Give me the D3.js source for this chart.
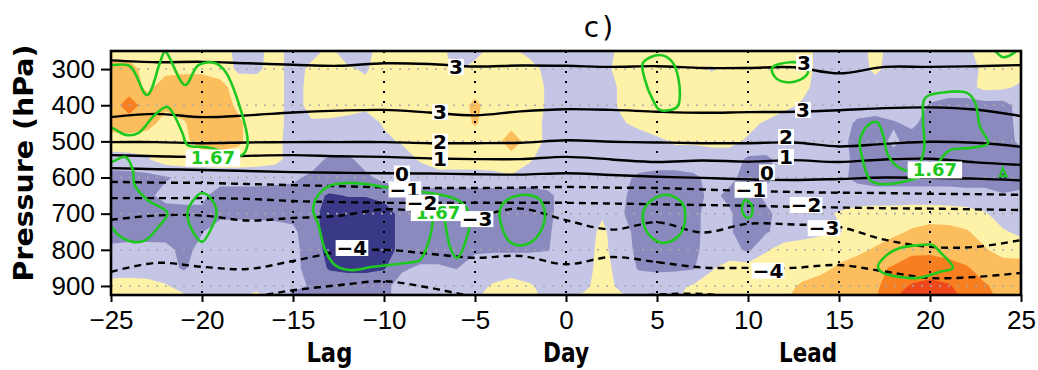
<!DOCTYPE html>
<html>
<head>
<meta charset="utf-8">
<script src="https://cdn.jsdelivr.net/npm/d3@7"></script>
<style>
  body { margin: 0; background: #fff; }
  svg { display: block; }
</style>
</head>
<body>
<svg id="chart" width="1038" height="370"></svg>
<script>
// ---- grid axes ----
const days = [-25,-24,-23,-22,-21,-20,-19,-18,-17,-16,-15,-14,-13,-12,-11,-10,-9,-8,-7,-6,-5,-4,-3,-2,-1,
  0,1,2,3,4,5,6,7,8,9,10,11,12,13,14,15,16,17,18,19,20,21,22,23,24,25];
const levels = [250,300,350,400,450,500,550,600,650,700,750,800,850,900,925];

// ---- shaded anomaly field, one row per pressure level (columns follow `days`) ----
const anomaly250 = [0.25,0.25,0.25,0.25,0.25,0.25,0.25,-0.15,-0.15,0.2,-0.2,-0.15,0.1,-0.2,-0.15,0.25,0.25,0.25,0.15,-0.2,-0.2,0.2,0.1,-0.15,-0.2,-0.2,-0.2,-0.2,0.1,0.25,0.25,0.25,0.25,0.25,0.25,0.25,0.25,0.25,0.2,-0.15,-0.2,-0.2,0.15,-0.2,-0.2,-0.2,-0.2,-0.1,0.2,0.25,0.25];
const anomaly300 = [0.75,0.7,0.3,0.35,0.4,0.4,0.3,-0.1,-0.1,0.2,-0.2,0.1,0.2,0.05,-0.05,0.25,0.25,0.25,0.25,-0.1,0.2,0.25,0.25,0.2,-0.15,-0.2,-0.2,-0.2,0.2,0.25,0.25,0.25,0.2,-0.05,0.2,0.25,0.25,0.25,0.2,-0.15,-0.2,-0.2,0.1,-0.2,-0.2,-0.2,-0.2,-0.2,0.1,0.25,0.25];
const anomaly350 = [0.75,0.8,0.38,0.75,0.75,0.75,0.65,0.3,0.25,0.2,-0.2,0.15,0.25,0.25,0.1,0.25,0.25,0.25,0.25,0.25,0.3,0.25,0.25,0.2,-0.05,-0.2,-0.2,-0.2,0.05,0.25,0.25,0.25,0.25,0.25,0.25,0.25,0.25,0.2,0.1,-0.15,-0.2,-0.2,-0.2,-0.2,-0.2,-0.2,-0.2,-0.2,0.15,0.1,-0.1];
const anomaly400 = [0.8,1.2,0.8,0.6,0.75,0.8,0.75,0.4,0.25,0.2,-0.2,0.15,0.25,0.2,0.1,0.25,0.25,0.25,0.25,0.25,0.62,0.25,0.25,0.2,-0.05,-0.2,-0.2,-0.2,0.05,0.25,0.25,0.25,0.25,0.25,0.25,0.25,0.25,0.1,-0.05,-0.2,-0.2,-0.2,-0.2,-0.2,-0.2,-0.55,-0.7,-0.7,-0.7,-0.7,-0.3];
const anomaly450 = [0.75,0.8,0.7,0.3,0.45,0.8,0.8,0.6,0.2,0.2,-0.2,-0.05,-0.1,-0.15,-0.2,0.05,0.25,0.25,0.25,0.25,0.55,0.25,0.3,0.2,-0.1,-0.2,-0.2,-0.2,-0.05,0.1,0.25,0.25,0.25,0.25,0.25,0.1,-0.05,-0.2,-0.2,-0.2,-0.2,-0.6,-0.7,-0.55,-0.4,-0.7,-0.7,-0.7,-0.7,-0.7,-0.35];
const anomaly500 = [0.25,0.25,0.2,0.2,0.4,0.7,0.75,0.6,0.2,0.15,-0.2,-0.15,-0.15,-0.15,-0.2,-0.1,0.05,0.25,0.25,0.25,0.25,0.25,0.8,0.25,-0.1,-0.2,-0.2,-0.2,-0.2,-0.2,-0.1,0.05,0.05,0.1,0.1,-0.05,-0.2,-0.2,-0.2,-0.2,-0.3,-0.7,-0.7,-0.4,-0.7,-0.7,-0.7,-0.7,-0.7,-0.7,-0.4];
const anomaly550 = [-0.2,-0.15,-0.05,0.25,0.25,0.25,0.25,0.25,0.2,0.15,-0.2,-0.25,-0.6,-0.6,-0.3,-0.25,-0.2,0.05,0.25,0.25,0.25,0.25,0.25,0.05,-0.2,-0.2,-0.2,-0.2,-0.2,-0.2,-0.2,-0.2,-0.2,-0.2,-0.2,-0.6,-0.6,-0.3,-0.2,-0.2,-0.2,-0.7,-0.7,-0.7,-0.7,-0.7,-0.7,-0.7,-0.7,-0.7,-0.7];
const anomaly600 = [-0.7,-0.7,-0.65,-0.55,-0.4,-0.35,-0.3,-0.3,-0.3,-0.35,-0.4,-0.6,-0.65,-0.65,-0.6,-0.35,-0.3,-0.25,-0.2,-0.2,-0.2,-0.15,-0.05,-0.2,-0.25,-0.25,-0.25,-0.25,-0.35,-0.6,-0.7,-0.7,-0.6,-0.35,-0.4,-0.65,-0.6,-0.3,-0.3,-0.3,-0.4,-0.6,-0.7,-0.7,-0.7,-0.7,-0.7,-0.7,-0.7,-1.1,-0.7];
const anomaly650 = [-0.75,-0.7,-0.6,-0.35,-0.3,-0.4,-0.7,-0.7,-0.7,-0.7,-0.7,-0.85,-1.05,-0.98,-0.98,-0.9,-0.75,-0.7,-0.7,-0.7,-0.7,-0.75,-0.8,-0.75,-0.6,-0.3,-0.25,-0.2,-0.4,-0.7,-0.8,-0.8,-0.65,-0.4,-0.6,-0.7,-0.4,-0.3,-0.3,-0.3,-0.3,-0.3,-0.3,-0.3,-0.3,-0.3,-0.3,-0.35,-0.35,-0.4,-0.4];
const anomaly700 = [-0.7,-0.7,-0.7,-0.7,-0.7,-0.6,-0.6,-0.6,-0.6,-0.6,-0.65,-0.85,-1.2,-1.25,-1.25,-1.15,-0.9,-0.75,-0.7,-0.7,-0.7,-0.75,-0.8,-0.75,-0.6,-0.3,-0.2,-0.05,-0.45,-0.7,-0.8,-0.8,-0.6,-0.35,-0.45,-0.8,-0.6,-0.3,-0.25,-0.15,0.05,0.2,0.25,0.25,0.3,0.3,0.25,0.2,0.05,-0.2,-0.3];
const anomaly750 = [-0.7,-0.7,-0.7,-0.65,-0.6,-0.52,-0.3,-0.3,-0.3,-0.35,-0.4,-0.8,-1.2,-1.25,-1.25,-1.15,-0.9,-0.7,-0.7,-0.7,-0.75,-0.75,-0.7,-0.65,-0.55,-0.3,-0.2,0.1,-0.3,-0.65,-0.75,-0.75,-0.6,-0.35,-0.45,-0.75,-0.55,-0.3,-0.2,-0.1,-0.05,0.25,0.3,0.4,0.55,0.65,0.65,0.55,0.3,0.05,-0.1];
const anomaly800 = [-0.4,-0.35,-0.35,-0.4,-0.6,-0.4,-0.3,-0.25,-0.25,-0.3,-0.35,-0.75,-1.15,-1.25,-1.25,-1.15,-0.9,-0.7,-0.7,-0.65,-0.6,-0.55,-0.55,-0.55,-0.52,-0.3,-0.2,0.15,-0.3,-0.6,-0.7,-0.7,-0.6,-0.3,-0.3,-0.6,-0.05,0.2,0.25,0.3,0.35,0.4,0.55,0.75,0.9,0.9,0.8,0.7,0.55,0.3,0.25];
const anomaly850 = [-0.35,-0.3,-0.3,-0.35,-0.55,-0.3,-0.25,-0.25,-0.25,-0.3,-0.35,-0.7,-1.05,-1.1,-1.1,-1.05,-0.55,-0.45,-0.45,-0.52,-0.2,-0.25,-0.25,-0.25,-0.2,-0.2,-0.15,0.15,-0.15,-0.55,-0.6,-0.6,-0.55,-0.05,0.2,0.25,0.3,0.3,0.35,0.4,0.55,0.7,0.9,1.05,1.2,1.25,1.2,1.05,0.8,0.75,0.75];
const anomaly900 = [0.25,0.25,0.2,0.05,-0.2,-0.25,-0.3,-0.25,-0.15,-0.25,-0.35,-0.55,-0.7,-0.75,-0.75,-0.6,-0.35,-0.3,-0.3,-0.25,-0.15,0.05,0.2,0.05,-0.15,-0.2,-0.1,0.2,-0.1,-0.2,-0.2,-0.1,0.05,0.2,0.25,0.3,0.35,0.4,0.55,0.65,0.7,0.8,0.9,1.3,1.55,1.65,1.55,1.3,1.05,0.85,0.8];
const anomaly925 = [0.3,0.3,0.25,0.2,0.05,-0.2,-0.2,-0.1,0.1,-0.2,-0.6,-0.65,-0.7,-0.7,-0.7,-0.6,-0.35,-0.3,-0.3,-0.25,-0.1,0.2,0.25,0.15,-0.15,-0.1,0.05,0.3,0.05,-0.15,-0.2,-0.1,0.2,0.25,0.3,0.35,0.4,0.45,0.6,0.7,0.75,0.85,0.95,1.4,1.8,1.85,1.75,1.3,1.1,0.9,0.85];

const shadeThresholds = [-1, -0.5, 0, 0.5, 1, 1.5];
const shadeColors = ["#393987", "#8a8abe", "#c5c6e5", "#fef2a9", "#fcbe5d", "#f77f1f", "#ef481b"];

// ---- line contours (hPa of each isoline, sampled at lineDays) ----
const lineDays = [-25,-22.5,-20,-17.5,-15,-12.5,-10,-7.5,-5,-2.5,0,2.5,5,7.5,10,12.5,15,17.5,20,22.5,25];
const iso3upper = [276,281,280,284,288,291,284,286,293,290,291,294,292,297,297,295,312,294,294,292,289];
const iso3lower = [433,424,433,428,420,415,413,420,428,417,411,413,418,421,419,418,414,408,406,412,430];
const iso2  = [502,502,505,503,502,502,502,505,505,504,497,501,503,505,505,503,514,507,501,504,515];
const iso1  = [538,541,543,540,538,541,543,547,549,549,543,550,557,553,556,552,557,550,548,558,565];
const iso0  = [574,577,579,582,585,587,588,589,591,592,588,593,598,601,605,607,604,600,601,603,608];
const isoM1 = [612,614,615,618,621,624,627,629,629,628,626,628,629,633,637,640,642,643,645,646,648];
const isoM2 = [657,657,657,659,665,668,670,670,670,670,670,672,674,676,678,681,683,685,686,688,690];
const isoM3 = [717,705,705,719,712,706,688,695,705,686,718,744,724,752,728,730,737,772,792,792,773];
const isoM4 = [861,836,847,853,831,806,800,811,822,817,840,820,834,849,850,850,842,860,878,875,864];
const isoM5 = [945,942,926,930,912,898,887,905,930,945,945,935,924,922,935,945,948,948,948,948,948];
const isolines = [
  {value: 3, p: iso3upper}, {value: 3, p: iso3lower}, {value: 2, p: iso2}, {value: 1, p: iso1},
  {value: 0, p: iso0}, {value: -1, p: isoM1}, {value: -2, p: isoM2}, {value: -3, p: isoM3},
  {value: -4, p: isoM4}, {value: -5, p: isoM5}
];
// label positions [day, hPa, text]
const isoLabels = [
  [-6.04, 294, "3"], [13.08, 283, "3"], [-6.92, 419, "3"], [13.02, 413, "3"],
  [-6.92, 501, "2"], [12.09, 488, "2"], [-6.92, 547, "1"], [12.09, 543, "1"],
  [-9.01, 589, "0"], [11.04, 586, "0"], [-8.85, 633, "\u22121"], [10.16, 634, "\u22121"],
  [-7.91, 670, "\u22122"], [13.19, 676, "\u22122"], [-4.89, 715, "\u22123"], [14.18, 740, "\u22123"],
  [-11.76, 795, "\u22124"], [11.1, 858, "\u22124"]
];

// ---- 1.67 significance contour, as [day, hPa] outlines ----
const sigOpen = [
  [[-25.6,289],[-24.95,289],[-23.96,292],[-23.02,372],[-22.3,281],[-22.03,252],[-20.93,344],[-20.2,289],[-19.3,283],[-18.7,308],[-17.6,463],[-17.5,510],[-17.8,538],[-18.7,529],[-19.8,516],[-20.8,510],[-21.1,474],[-21.9,405],[-22.6,427],[-23.5,477],[-24.2,482],[-24.95,463],[-25.6,463]],
  [[-25.6,557],[-25,557],[-24.2,543],[-23.8,579],[-23.7,621],[-23,662],[-21.9,698],[-22.4,737],[-23.1,773],[-23.8,778],[-24.6,759],[-25,737],[-25.6,730]],
  [[23.4,245],[23.57,250],[24.0,267],[24.67,253],[24.8,245]]
];
const sigClosed = [
  [[-20,643],[-19.45,662],[-19.2,698],[-19.45,737],[-20,778],[-20.55,745],[-20.8,698],[-20.55,668]],
  [[-13.9,690],[-13.6,648],[-13,623],[-12.1,615],[-11.0,618],[-10.05,626],[-8.74,635],[-7.47,643],[-6.37,654],[-5.66,673],[-5.27,709],[-5.44,764],[-5.99,823],[-6.37,792],[-6.76,698],[-6.92,684],[-7.2,698],[-7.47,764],[-8.02,828],[-8.74,836],[-10.6,847],[-11.87,856],[-12.7,842],[-13.24,800],[-13.63,726]],
  [[-3.63,690],[-3.24,662],[-2.14,648],[-1.43,662],[-1.15,709],[-1.59,764],[-2.36,787],[-3.08,778],[-3.52,737]],
  [[4.23,698],[4.73,662],[5.6,648],[6.37,670],[6.54,717],[6.15,764],[5.27,781],[4.45,751]],
  [[9.84,662],[10.2,676],[10.2,704],[9.95,712],[9.67,690]],
  [[4.23,283],[5.16,261],[5.88,283],[6.26,366],[6.1,405],[5.16,413],[4.78,386],[4.34,330]],
  [[11.32,297],[12.3,281],[13.13,289],[13.3,308],[12.85,330],[12.03,336],[11.48,322]],
  [[16.7,607],[16.26,543],[16.15,496],[16.6,455],[17.09,447],[17.42,482],[17.69,538],[18.35,574],[19.18,579],[19.67,524],[19.62,441],[19.73,380],[20.82,364],[22.03,366],[22.47,391],[22.75,460],[23.19,505],[22.2,518],[21.1,524],[20.55,552],[20,585],[18.9,607],[17.8,618],[16.98,615]],
  [[17.14,847],[17.64,814],[18.35,795],[19.45,787],[20.16,787],[20.55,806],[21.26,850],[20.55,861],[19.29,878],[18.35,875],[17.42,864]]
];
const sigTriangle = [[24.0,574],[24.2,596],[23.84,596]];
const sigLabels = [[-19.4, 546, "1.67"], [-7.03, 697, "1.67"], [20.27, 579, "1.67"]];

// ---- axes ----
const pressureTicks = [300,400,500,600,700,800,900];
const dayTicks = [-25,-20,-15,-10,-5,0,5,10,15,20,25];
const guideDays = [-20,-15,-10,-5,0,5,10,15,20];

// ================= drawing =================
const svg = d3.select("#chart");
const plot = {left: 111, right: 1021, top: 51, bottom: 295};
const x = d3.scaleLinear().domain([-25, 25]).range([plot.left, plot.right]);
const y = d3.scaleLinear().domain([250, 925]).range([plot.top, plot.bottom]);

svg.append("defs").append("clipPath").attr("id", "plotClip")
  .append("rect").attr("x", plot.left).attr("y", plot.top)
  .attr("width", plot.right - plot.left).attr("height", plot.bottom - plot.top);

const body = svg.append("g").attr("clip-path", "url(#plotClip)");

// shaded field
const anomaly = [anomaly250, anomaly300, anomaly350, anomaly400, anomaly450, anomaly500, anomaly550,
  anomaly600, anomaly650, anomaly700, anomaly750, anomaly800, anomaly850, anomaly900, anomaly925];
const nx = days.length, ny = levels.length;
const flat = anomaly.flat();
function gridTo(arr, g) {
  const t = Math.max(0, Math.min(arr.length - 1, g - 0.5));
  const i = Math.min(arr.length - 2, Math.floor(t));
  return arr[i] + (t - i) * (arr[i + 1] - arr[i]);
}
const gridProjection = d3.geoTransform({
  point(px, py) { this.stream.point(x(gridTo(days, px)), y(gridTo(levels, py))); }
});
const gridPath = d3.geoPath(gridProjection);
const bands = d3.contours().size([nx, ny]).thresholds(shadeThresholds)(flat);

body.append("rect").attr("x", plot.left).attr("y", plot.top)
  .attr("width", plot.right - plot.left).attr("height", plot.bottom - plot.top)
  .attr("fill", shadeColors[0]);
body.selectAll("path.band").data(bands).join("path")
  .attr("class", "band")
  .attr("d", gridPath)
  .attr("fill", (d, i) => shadeColors[i + 1]);

// dotted guides
body.selectAll("line.hguide").data(pressureTicks).join("line")
  .attr("class", "hguide")
  .attr("x1", plot.left).attr("x2", plot.right)
  .attr("y1", d => y(d)).attr("y2", d => y(d))
  .attr("stroke", "#a9a9a9").attr("stroke-width", 1.6).attr("stroke-dasharray", "2,7");
body.selectAll("line.vguide").data(guideDays).join("line")
  .attr("class", "vguide")
  .attr("x1", d => x(d)).attr("x2", d => x(d))
  .attr("y1", plot.top).attr("y2", plot.bottom)
  .attr("stroke", "#000").attr("stroke-width", 2).attr("stroke-dasharray", "2,8");

// isolines
const isoLine = d3.line()
  .x((p, i) => x(lineDays[i])).y(p => y(p))
  .curve(d3.curveCatmullRom.alpha(0.5));
body.selectAll("path.iso").data(isolines).join("path")
  .attr("class", "iso")
  .attr("d", d => isoLine(d.p))
  .attr("fill", "none").attr("stroke", "#000").attr("stroke-width", 2.4)
  .attr("stroke-dasharray", d => d.value < 0 ? "7,5" : null);

// significance contour
const sigLineOpen = d3.line().x(d => x(d[0])).y(d => y(d[1])).curve(d3.curveCatmullRom.alpha(0.5));
const sigLineClosed = d3.line().x(d => x(d[0])).y(d => y(d[1])).curve(d3.curveCatmullRomClosed.alpha(0.5));
const sigLineTri = d3.line().x(d => x(d[0])).y(d => y(d[1])).curve(d3.curveLinearClosed);
const green = "#1ec81e";
body.selectAll("path.sigOpen").data(sigOpen).join("path")
  .attr("class", "sigOpen").attr("d", sigLineOpen)
  .attr("fill", "none").attr("stroke", green).attr("stroke-width", 2.6);
body.selectAll("path.sigClosed").data(sigClosed).join("path")
  .attr("class", "sigClosed").attr("d", sigLineClosed)
  .attr("fill", "none").attr("stroke", green).attr("stroke-width", 2.6);
body.append("path").attr("d", sigLineTri(sigTriangle))
  .attr("fill", "none").attr("stroke", green).attr("stroke-width", 2.2);

// labels with white boxes
function boxedLabel(layer, d, p, text, color, size, pad, boxH) {
  const cx = x(d), cy = y(p);
  const grp = layer.append("g");
  const rect = grp.append("rect").attr("fill", "#fff");
  const t = grp.append("text")
    .attr("x", cx).attr("y", cy + size * 0.36)
    .attr("text-anchor", "middle")
    .attr("font-family", "'DejaVu Sans', sans-serif")
    .attr("font-weight", "bold").attr("font-size", size)
    .attr("fill", color).text(text);
  const w = t.node().getComputedTextLength();
  rect.attr("x", cx - w / 2 - pad).attr("y", cy - boxH / 2)
    .attr("width", w + 2 * pad).attr("height", boxH);
}
const labelLayer = svg.append("g");
sigLabels.forEach(([d, p, t]) => boxedLabel(labelLayer, d, p, t, green, 18, 5, 17));
isoLabels.forEach(([d, p, t]) => boxedLabel(labelLayer, d, p, t, "#000", 20, 1, 16));

// frame
svg.append("rect").attr("x", plot.left).attr("y", plot.top)
  .attr("width", plot.right - plot.left).attr("height", plot.bottom - plot.top)
  .attr("fill", "none").attr("stroke", "#000").attr("stroke-width", 2.6);

// axes
const yAxis = svg.append("g").attr("transform", `translate(${plot.left},0)`)
  .call(d3.axisLeft(y).tickValues(pressureTicks).tickSize(10).tickPadding(6).tickFormat(d3.format("d")));
const xAxis = svg.append("g").attr("transform", `translate(0,${plot.bottom})`)
  .call(d3.axisBottom(x).tickValues(dayTicks).tickSize(7).tickPadding(9));
[yAxis, xAxis].forEach(a => {
  a.select(".domain").remove();
  a.selectAll(".tick line").attr("stroke", "#000").attr("stroke-width", 2);
  a.selectAll(".tick text").attr("font-family", "'Liberation Sans', Arial, sans-serif")
    .attr("font-size", 26).attr("fill", "#000");
});

// titles
const bold = "'DejaVu Sans', sans-serif";
svg.append("text").attr("transform", "translate(33,163) rotate(-90)")
  .attr("text-anchor", "middle").attr("font-family", bold).attr("font-weight", "bold")
  .attr("font-size", 27).attr("textLength", 237).attr("lengthAdjust", "spacingAndGlyphs")
  .text("Pressure (hPa)");
[["Lag", -13, 46], ["Day", 0, 46], ["Lead", 13.3, 58]].forEach(([t, d, len]) => {
  svg.append("text").attr("x", x(d)).attr("y", 362)
    .attr("text-anchor", "middle").attr("font-family", bold).attr("font-weight", "bold")
    .attr("font-size", 27).attr("textLength", len).attr("lengthAdjust", "spacingAndGlyphs")
    .text(t);
});
svg.append("text").attr("x", 600).attr("y", 37).attr("text-anchor", "middle")
  .attr("font-family", "'DejaVu Sans', sans-serif").attr("font-size", 28)
  .attr("letter-spacing", 3).text("c)");
</script>
</body>
</html>
